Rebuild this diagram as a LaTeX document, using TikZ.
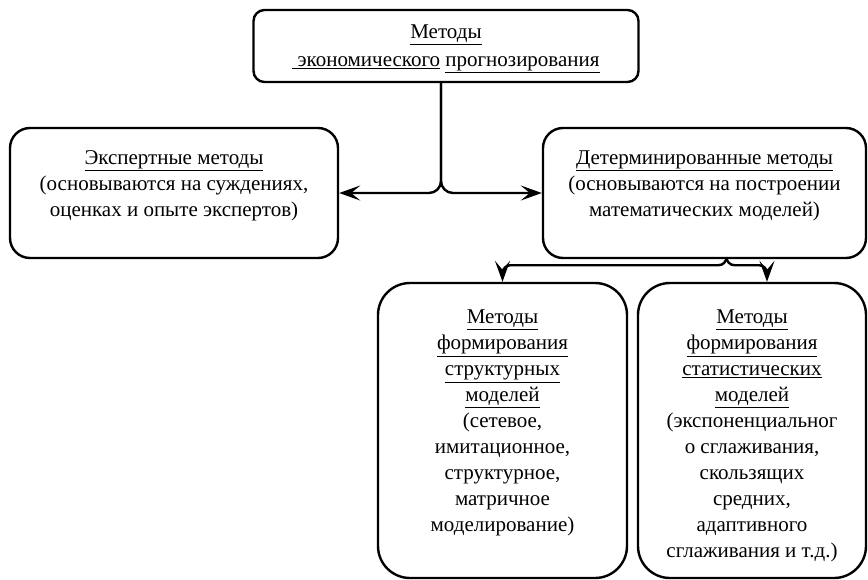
\documentclass[tikz,border=0pt]{standalone}
\usepackage{fontspec}
\setmainfont{Liberation Serif}
\usepackage{tikz}
\usetikzlibrary{arrows.meta, positioning}
\tikzset{
	box/.style={draw=black, line width=2.4pt, shape=rectangle, align=center, inner sep=0pt},
	topbox/.style={box, minimum width=385pt, minimum height=72pt, rounded corners=11pt},
	midbox/.style={box, minimum height=130pt, rounded corners=20pt},
	lowbox/.style={box, minimum width=249pt, minimum height=295pt, rounded corners=32pt},
	boxtext/.style={align=center, font=\fontsize{21}{26}\selectfont, inner sep=0pt},
	link/.style={-{Stealth[length=21pt, width=15pt, inset=9pt]}, line width=2.4pt, rounded corners=12pt}
}

\begin{document}
\begin{tikzpicture}[x=1pt, y=-1pt]
		\useasboundingbox (0,0) rectangle (868,579);
		
		% Nodes
		\node (top) [topbox] at (446,46) {};
		\node (expert) [midbox, minimum width=328pt] at (174,193) {};
		\node (determ) [midbox, minimum width=323pt] at (704.5,193) {};
		\node (struct) [lowbox] at (502.5,430.5) {};
		\node (stat) [lowbox, minimum width=228pt] at (752,430.5) {};
		
		% Texts
		\node (toptext) [boxtext, font=\fontsize{21}{28}\selectfont] at (446,49) {\underline{Методы}\\ \underline{\ экономического} \underline{прогнозирования}};
		\node (experttext) [boxtext] at (174,186) {\underline{Экспертные методы}\\(основываются на суждениях,\\оценках и опыте экспертов)};
		\node (determtext) [boxtext] at (704.5,186) {\underline{Детерминированные методы}\\(основываются на построении\\математических моделей)};
		\node (structtext) [boxtext, anchor=north] at (502.5,310) {\underline{Методы}\\\underline{формирования}\\\underline{структурных}\\\underline{моделей}\\(сетевое,\\имитационное,\\структурное,\\матричное\\моделирование)};
		\node (stattext) [boxtext, anchor=north] at (752,310) {\underline{Методы}\\\underline{формирования}\\\underline{статистических}\\\underline{моделей}\\(экспоненциальног\\о сглаживания,\\скользящих\\средних,\\адаптивного\\сглаживания и т.д.)};
		
		% Arrows
		\draw [link] ([xshift=-5pt]top.south) |- (expert.east);
		\draw [link] ([xshift=-5pt]top.south) |- (determ.west);
		\draw [link, rounded corners=8pt] ([xshift=22pt]determ.south) -- ++(0,6) -| (struct.north);
		\draw [link, rounded corners=8pt] ([xshift=22pt]determ.south) -- ++(0,6) -| ([xshift=15pt]stat.north);

\end{tikzpicture}
\end{document}
